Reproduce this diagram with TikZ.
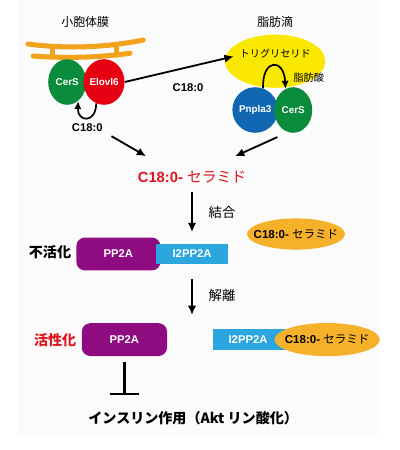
\documentclass[tikz,border=0pt]{standalone}
\usepackage{fontspec}
\setmainfont{Liberation Sans}
\newfontfamily\jp{Noto Sans CJK JP}
\usetikzlibrary{arrows.meta,shapes.geometric,calc}
\definecolor{ergold}{HTML}{F3A21B}
\definecolor{cgreen}{HTML}{0A8C3C}
\definecolor{cred}{HTML}{E60012}
\definecolor{cblue}{HTML}{1167B1}
\definecolor{cyellow}{HTML}{FBE800}
\definecolor{cpurple}{HTML}{8E0C80}
\definecolor{csky}{HTML}{2CA6DF}
\definecolor{camber}{HTML}{F6B12A}
\definecolor{tred}{HTML}{E1141E}
\definecolor{bgwash}{HTML}{FBFBFB}
\newcommand\cerlabel{\makebox[0pt]{\bfseries C18:0- {\jp\mdseries セラミド}}}
\tikzset{er/.style={draw=ergold,line width=3.6pt,line cap=round}, cell/.style={ellipse,inner sep=0pt,minimum width=.95cm,minimum height=1.14cm,text=white,font=\fontsize{7}{8}\selectfont\bfseries}, title/.style={font=\jp\fontsize{8.5}{10}\selectfont}, lbl/.style={font=\fontsize{8}{9}\selectfont\bfseries}, tg/.style={ellipse,fill=cyellow,inner sep=0pt,minimum width=2.35cm,minimum height=1.33cm,font=\jp\fontsize{7.2}{8}\selectfont}, pp/.style={rounded corners=6pt,fill=cpurple,text=white,minimum width=2.1cm,minimum height=.82cm,font=\fontsize{8}{9}\selectfont\bfseries}, ipp/.style={fill=csky,text=white,minimum height=.5cm,font=\fontsize{8}{9}\selectfont\bfseries}, cerd/.style={ellipse,fill=camber,inner sep=0pt,minimum width=2.45cm,minimum height=.78cm,font=\fontsize{8.2}{9}\selectfont}, state/.style={font=\jp\fontsize{10}{12}\selectfont\bfseries}, arr/.style={-{Latex[length=2.3mm,width=2.1mm]},line width=1.3pt}, carr/.style={-{Latex[length=2mm,width=1.8mm]},line width=1.2pt}, inh/.style={-{Bar[width=7.3mm,line width=1.6pt]},line width=1.6pt}}

\begin{document}
\begin{tikzpicture}[x=1cm,y=1cm]
\useasboundingbox (0,0) rectangle (10,-11.25);
\fill[bgwash] (0.45,0) rectangle (9.5,-10.88);
% membrane of the ER
\draw[er] (0.7,-1.1) .. controls (1.6,-1.22) and (2.6,-1.2) .. (3.58,-1.0);
\draw[er] (0.83,-1.4) .. controls (1.6,-1.46) and (2.5,-1.44) .. (3.25,-1.33);
\draw[er] (1.32,-1.18)--(1.32,-1.42);\draw[er] (2.92,-1.14)--(2.92,-1.37);
\node[title] (ert) at (2.13,-0.55) {小胞体膜};\node[title] (ldt) at (6.88,-0.55) {脂肪滴};
\node[cell,fill=cgreen] (cers1) at (1.68,-2.05) {CerS};\node[cell,fill=cred] (elovl) at (2.6,-2.05) {Elovl6};
\node[lbl] (c18a) at (2.18,-3.18) {C18:0};
\draw[carr] (elovl.250) .. controls (2.4,-3.1) and (1.93,-3.05) .. (cers1.-60);
% lipid droplet
\node[tg] (tg) at (6.88,-1.53) {\raisebox{1mm}[0pt][0pt]{トリグリセリド}};
\node[cell,fill=cblue] (pnpla) at (6.38,-2.75) {Pnpla3};\node[cell,fill=cgreen] (cers2) at (7.33,-2.75) {CerS};
\node[title,font=\jp\fontsize{7.2}{8}\selectfont] (fa) at (7.72,-1.95) {脂肪酸};
\draw[carr] (pnpla.70) .. controls (6.55,-1.45) and (7.1,-1.45) .. (cers2.110);
\draw[arr] (elovl.east) -- ([shift={(.22,.12)}]tg.west);\node[lbl] (c18b) at (4.7,-2.18) {C18:0};
% ceramide
\node[text=tred,font=\fontsize{10.5}{12}\selectfont] (cer) at (4.8,-4.43) {\bfseries C18:0- {\jp\mdseries セラミド}};
\coordinate (pc) at ($(pnpla.south)!.5!(cers2.south)$);
\draw[arr] ([shift={(.1,0)}]c18a.south east) -- ([shift={(.33,.25)}]cer.north west);
\draw[arr] ([shift={(.08,-.1)}]pc) -- ([shift={(-.4,.25)}]cer.north east);
% inactive
\node[pp] (pp2a) at (2.96,-6.35) {PP2A};\node[ipp,minimum width=1.8cm] (i2a) at (4.8,-6.34) {I2PP2A};
\node[state] (inact) at (1.25,-6.3) {不活化};
\node[cerd] (cerd1) at (7.4,-5.85) {\cerlabel};
\draw[arr,shorten <=1mm,shorten >=2.8mm] (cer) -- (i2a);\node[title,font=\jp\fontsize{9.5}{11}\selectfont] (bind) at (5.55,-5.3) {結合};
% active
\node[pp,minimum width=2.13cm] (pp2b) at (3.11,-8.49) {PP2A};
\node[ipp,minimum width=1.95cm,minimum height=.53cm] (i2b) at (6.3,-8.49) {\hspace*{-2mm}I2PP2A};
\node[cerd,minimum width=2.63cm,minimum height=.83cm] (cerd2) at (8.18,-8.49) {\cerlabel};
\node[state,text=tred] (act) at (1.38,-8.5) {活性化};
\draw[arr,shorten <=3.7mm,shorten >=2mm] (i2a.south) -- (i2a.south |- pp2b.north);\node[title,font=\jp\fontsize{9.5}{11}\selectfont] (sep) at (5.55,-7.38) {解離};
\draw[inh] ([yshift=-1.5mm]pp2b.south) -- ++(0,-0.83);
\node[state] (ins) at (4.83,-10.45) {インスリン作用（Akt リン酸化）};
\end{tikzpicture}
\end{document}
